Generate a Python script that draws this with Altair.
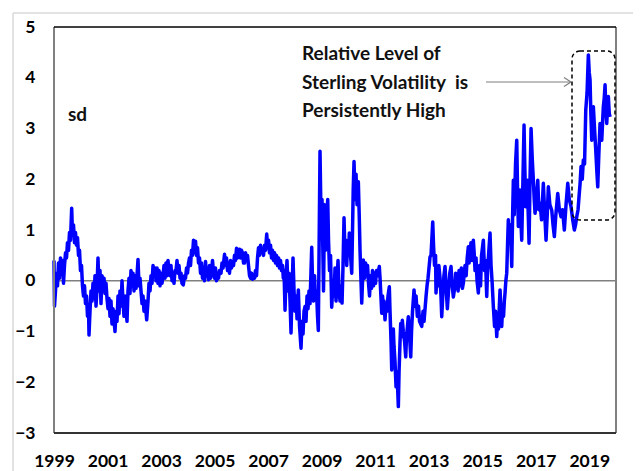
import altair as alt
import pandas as pd

# ---- data: (decimal year, standardised level in sd) ----
seg_1999_2001 = [
    (1999.000, 0.40), (1999.019, -0.50), (1999.056, -0.20), (1999.093, 0.15), (1999.131, -0.10),
    (1999.168, 0.35), (1999.206, 0.05), (1999.243, 0.45), (1999.280, 0.20), (1999.318, 0.40),
    (1999.355, -0.05), (1999.392, 0.30), (1999.430, 0.55), (1999.467, 0.45), (1999.504, 0.75),
    (1999.542, 0.60), (1999.579, 0.95), (1999.617, 0.80), (1999.661, 1.43), (1999.691, 0.90),
    (1999.729, 1.10), (1999.766, 0.75), (1999.803, 0.95), (1999.841, 0.70), (1999.878, 0.85),
    (1999.916, 0.50), (1999.953, 0.60), (1999.990, 0.20), (2000.028, 0.30), (2000.065, -0.10),
    (2000.102, -0.30), (2000.140, -0.10), (2000.177, -0.45), (2000.215, -0.30), (2000.252, -0.70),
    (2000.289, -0.50), (2000.308, -1.07), (2000.345, -0.60), (2000.383, -0.20), (2000.420, -0.40),
    (2000.457, -0.05), (2000.495, -0.35), (2000.532, 0.10), (2000.570, -0.50), (2000.607, -0.15),
    (2000.644, 0.45), (2000.682, -0.20), (2000.719, 0.20), (2000.756, -0.45), (2000.794, 0.10),
    (2000.831, -0.15), (2000.869, 0.05), (2000.906, -0.25), (2000.943, -0.05), (2000.981, -0.35),
    (2001.018, -0.55), (2001.055, -0.35), (2001.093, -0.70), (2001.130, -0.40), (2001.167, -0.85),
    (2001.205, -0.55), (2001.280, -1.00), (2001.317, -0.60), (2001.354, -0.80), (2001.392, -0.30),
    (2001.429, -0.65), (2001.466, -0.20), (2001.504, -0.50), (2001.541, 0.00), (2001.578, -0.40),
    (2001.616, -0.70), (2001.653, -0.30), (2001.728, -0.80), (2001.765, -0.20), (2001.803, 0.05),
    (2001.840, -0.25), (2001.877, 0.20), (2001.915, -0.10), (2001.952, 0.15), (2001.990, -0.20),
]
seg_2002_2004 = [
    (2002.027, 0.10), (2002.064, -0.15), (2002.102, 0.10), (2002.139, 0.42), (2002.176, -0.10),
    (2002.214, 0.05), (2002.251, -0.20), (2002.289, -0.45), (2002.326, -0.30), (2002.363, -0.60),
    (2002.401, -0.40), (2002.464, -0.77), (2002.513, -0.40), (2002.550, -0.05), (2002.588, -0.20),
    (2002.625, 0.10), (2002.662, -0.05), (2002.700, 0.30), (2002.737, 0.10), (2002.774, 0.25),
    (2002.812, 0.00), (2002.849, 0.25), (2002.886, -0.05), (2002.924, 0.20), (2002.961, -0.10),
    (2002.999, 0.15), (2003.036, -0.05), (2003.073, 0.10), (2003.111, 0.30), (2003.148, 0.05),
    (2003.185, 0.35), (2003.223, 0.10), (2003.260, 0.40), (2003.297, 0.20), (2003.335, 0.10),
    (2003.372, 0.30), (2003.410, 0.00), (2003.447, 0.15), (2003.484, -0.05), (2003.522, 0.20),
    (2003.559, 0.20), (2003.596, 0.40), (2003.634, 0.15), (2003.671, 0.30), (2003.709, 0.05),
    (2003.746, 0.15), (2003.783, -0.05), (2003.832, -0.08), (2003.877, 0.10), (2003.914, 0.05),
    (2003.952, 0.25), (2003.989, 0.15), (2004.026, 0.35), (2004.064, 0.45), (2004.101, 0.30),
    (2004.138, 0.60), (2004.176, 0.50), (2004.213, 0.80), (2004.250, 0.55), (2004.288, 0.78),
    (2004.325, 0.50), (2004.363, 0.65), (2004.400, 0.35), (2004.437, 0.45), (2004.475, 0.15),
    (2004.512, 0.35), (2004.549, 0.05), (2004.587, 0.25), (2004.624, 0.00), (2004.662, 0.38),
    (2004.699, 0.10), (2004.736, 0.20), (2004.774, 0.02), (2004.811, 0.30), (2004.848, 0.05),
    (2004.886, 0.20), (2004.923, 0.40), (2004.961, 0.15), (2004.998, 0.05),
]
seg_2005_2007 = [
    (2005.035, 0.25), (2005.073, 0.00), (2005.110, 0.10), (2005.147, 0.05), (2005.185, 0.20),
    (2005.241, 0.15), (2005.278, 0.35), (2005.316, 0.25), (2005.372, 0.52), (2005.409, 0.30),
    (2005.446, 0.45), (2005.484, 0.20), (2005.521, 0.35), (2005.558, 0.15), (2005.596, 0.40),
    (2005.633, 0.25), (2005.671, 0.38), (2005.708, 0.30), (2005.745, 0.50), (2005.783, 0.40),
    (2005.820, 0.64), (2005.857, 0.45), (2005.895, 0.55), (2005.932, 0.62), (2005.969, 0.45),
    (2006.007, 0.60), (2006.044, 0.55), (2006.082, 0.35), (2006.119, 0.35), (2006.156, 0.55),
    (2006.194, 0.40), (2006.231, 0.50), (2006.268, 0.30), (2006.306, 0.10), (2006.343, 0.05),
    (2006.381, 0.15), (2006.418, 0.03), (2006.455, 0.10), (2006.493, 0.05), (2006.530, 0.20),
    (2006.567, 0.10), (2006.605, 0.45), (2006.642, 0.65), (2006.679, 0.50), (2006.717, 0.70),
    (2006.754, 0.55), (2006.792, 0.60), (2006.829, 0.50), (2006.866, 0.70), (2006.904, 0.60),
    (2006.949, 0.92), (2006.979, 0.65), (2007.016, 0.80), (2007.053, 0.55), (2007.091, 0.70),
    (2007.128, 0.45), (2007.165, 0.60), (2007.203, 0.40), (2007.240, 0.55), (2007.278, 0.35),
    (2007.315, 0.50), (2007.352, 0.30), (2007.390, 0.45), (2007.427, 0.25), (2007.464, 0.40),
    (2007.502, 0.20), (2007.539, 0.30), (2007.569, 0.05), (2007.595, 0.20), (2007.633, -0.58),
    (2007.670, 0.10), (2007.707, 0.40), (2007.745, -0.20), (2007.782, 0.15), (2007.819, -0.40),
    (2007.857, -1.03), (2007.894, -0.20), (2007.931, 0.45), (2007.969, -0.20),
]
seg_2008_2010 = [
    (2008.006, -0.60), (2008.044, -0.30), (2008.081, -0.75), (2008.130, -0.18), (2008.175, -0.90),
    (2008.230, -1.33), (2008.268, -0.80), (2008.305, -1.05), (2008.343, -0.60), (2008.380, -0.51),
    (2008.417, -0.80), (2008.455, -0.30), (2008.492, -0.55), (2008.529, -0.20), (2008.567, -0.45),
    (2008.604, 0.20), (2008.630, 0.66), (2008.660, 0.00), (2008.697, -0.40), (2008.735, 0.10),
    (2008.772, -0.38), (2008.810, -0.20), (2008.847, -0.70), (2008.877, -0.98), (2008.903, 0.50),
    (2008.940, 2.55), (2008.978, 1.20), (2009.015, 1.60), (2009.071, -0.20), (2009.108, 1.50),
    (2009.146, 0.60), (2009.183, 1.20), (2009.228, 1.60), (2009.258, 0.80), (2009.295, 0.20),
    (2009.333, 0.50), (2009.377, -0.52), (2009.426, 0.00), (2009.464, -0.30), (2009.501, 0.25),
    (2009.538, -0.40), (2009.576, 0.00), (2009.613, 0.40), (2009.650, -0.20), (2009.688, -0.40),
    (2009.725, -0.10), (2009.763, -0.44), (2009.800, 0.30), (2009.837, 1.24), (2009.875, 0.50),
    (2009.912, 0.80), (2009.938, 0.30), (2009.968, 0.70), (2010.005, 0.50), (2010.035, 0.94),
    (2010.080, 0.50), (2010.125, 0.15), (2010.155, 1.00), (2010.181, 1.80), (2010.211, 2.35),
    (2010.248, 1.60), (2010.286, 2.10), (2010.323, 1.50), (2010.372, 1.95), (2010.405, 1.30),
    (2010.435, 0.60), (2010.465, 0.10), (2010.499, -0.44), (2010.529, 0.00), (2010.559, 0.41),
    (2010.604, 0.05), (2010.641, 0.35), (2010.678, 0.10), (2010.716, 0.30), (2010.753, -0.05),
    (2010.790, -0.30), (2010.828, 0.10), (2010.865, -0.15), (2010.902, 0.20), (2010.940, -0.10),
    (2010.977, 0.15),
]
seg_2011_2013 = [
    (2011.014, -0.05), (2011.052, 0.20), (2011.089, 0.10), (2011.156, 0.28), (2011.183, 0.05),
    (2011.246, -0.64), (2011.276, -0.30), (2011.313, -0.55), (2011.332, -0.40), (2011.369, -0.77),
    (2011.407, -0.45), (2011.444, -0.60), (2011.481, -0.30), (2011.530, -0.12), (2011.556, -0.60),
    (2011.594, -1.20), (2011.620, -1.76), (2011.650, -1.10), (2011.680, -0.95), (2011.706, -1.30),
    (2011.743, -1.60), (2011.781, -2.09), (2011.818, -1.80), (2011.867, -2.48), (2011.893, -1.80),
    (2011.930, -1.20), (2011.956, -0.84), (2011.986, -1.10), (2012.016, -0.78), (2012.053, -1.00),
    (2012.100, -1.20), (2012.143, -1.50), (2012.173, -1.10), (2012.240, -0.71), (2012.277, -1.00),
    (2012.330, -1.50), (2012.360, -1.00), (2012.397, -0.60), (2012.453, -0.18), (2012.491, -0.50),
    (2012.528, -0.30), (2012.577, -0.70), (2012.621, -0.50), (2012.659, -0.80), (2012.741, -0.90),
    (2012.790, -0.60), (2012.827, -0.80), (2012.902, -0.31), (2012.939, -0.10), (2012.976, 0.05),
    (2013.051, 0.47), (2013.088, 0.50), (2013.152, 1.16), (2013.182, 0.70), (2013.219, 0.30),
    (2013.257, 0.50), (2013.275, -0.24), (2013.313, 0.10), (2013.350, -0.10), (2013.380, 0.30),
    (2013.425, 0.05), (2013.460, -0.30), (2013.488, -0.71), (2013.537, -0.20), (2013.570, 0.10),
    (2013.612, 0.28), (2013.649, -0.10), (2013.698, -0.55), (2013.742, -0.20), (2013.790, 0.15),
    (2013.836, 0.28), (2013.873, -0.05), (2013.922, -0.32), (2013.985, -0.10),
]
seg_2014_2016 = [
    (2014.010, 0.15), (2014.060, 0.00), (2014.100, -0.20), (2014.135, 0.20), (2014.172, -0.10),
    (2014.220, 0.25), (2014.260, -0.15), (2014.295, -0.05), (2014.330, 0.15), (2014.359, 0.30),
    (2014.400, 0.10), (2014.440, 0.45), (2014.482, 0.67), (2014.510, 0.35), (2014.546, 0.50),
    (2014.580, 0.75), (2014.620, 0.40), (2014.669, 0.80), (2014.700, 0.55), (2014.733, 0.20),
    (2014.770, 0.45), (2014.808, 0.00), (2014.856, -0.24), (2014.901, 0.30), (2014.938, -0.10),
    (2014.976, 0.50), (2015.043, 0.80), (2015.088, 0.20), (2015.125, 0.40), (2015.170, -0.31),
    (2015.200, 0.20), (2015.237, 0.50), (2015.293, 0.94), (2015.331, 0.30), (2015.368, 0.00),
    (2015.417, -0.51), (2015.462, -0.90), (2015.499, -0.60), (2015.544, -1.10), (2015.574, -0.75),
    (2015.611, -0.95), (2015.641, -0.50), (2015.667, -0.18), (2015.704, -0.60), (2015.730, -0.90),
    (2015.760, -0.55), (2015.798, -0.70), (2015.828, -0.40), (2015.854, -0.24), (2015.884, 0.00),
    (2015.917, 0.15), (2015.947, 0.70), (2015.977, 1.20), (2016.011, 0.80), (2016.059, 1.10),
    (2016.104, 0.28), (2016.134, 1.20), (2016.164, 1.98), (2016.198, 1.30), (2016.246, 2.30),
    (2016.291, 2.77), (2016.321, 1.80), (2016.351, 1.07), (2016.384, 1.50), (2016.414, 1.79),
    (2016.444, 1.20), (2016.478, 0.80), (2016.508, 1.60), (2016.538, 2.40), (2016.564, 3.07),
    (2016.594, 2.20), (2016.627, 1.46), (2016.657, 1.60), (2016.687, 1.98), (2016.721, 1.30),
    (2016.751, 0.74), (2016.788, 2.00), (2016.826, 3.00), (2016.871, 2.40), (2016.912, 1.98),
    (2016.945, 1.60), (2016.975, 1.33),
]
seg_2017_2019 = [
    (2017.024, 1.60), (2017.076, 1.98), (2017.117, 1.40), (2017.162, 1.53), (2017.218, 1.20),
    (2017.285, 1.92), (2017.330, 1.40), (2017.386, 0.80), (2017.431, 1.30), (2017.472, 1.85),
    (2017.528, 1.50), (2017.599, 1.39), (2017.647, 1.10), (2017.696, 0.87), (2017.752, 1.30),
    (2017.823, 1.72), (2017.883, 1.40), (2017.947, 1.26), (2018.003, 1.40), (2018.070, 1.00),
    (2018.133, 1.50), (2018.197, 1.92), (2018.256, 1.60), (2018.320, 1.46), (2018.383, 1.20),
    (2018.444, 1.00), (2018.488, 1.10), (2018.533, 1.26), (2018.582, 1.40), (2018.619, 1.66),
    (2018.656, 1.90), (2018.694, 2.25), (2018.739, 2.00), (2018.780, 2.38), (2018.825, 2.30),
    (2018.870, 3.36), (2018.918, 3.70), (2018.967, 4.45), (2019.000, 4.10), (2019.030, 3.96),
    (2019.060, 3.30), (2019.094, 2.77), (2019.124, 3.10), (2019.154, 3.43), (2019.198, 3.00),
    (2019.243, 2.58), (2019.280, 2.20), (2019.318, 1.85), (2019.359, 2.50), (2019.404, 3.10),
    (2019.434, 2.90), (2019.468, 2.77), (2019.497, 3.10), (2019.527, 3.43), (2019.561, 3.60),
    (2019.591, 3.86), (2019.621, 3.40), (2019.654, 3.10), (2019.684, 3.40), (2019.714, 3.63),
    (2019.748, 3.30), (2019.778, 3.23),
]

x_tick_years = [1999, 2001, 2003, 2005, 2007, 2009, 2011, 2013, 2015, 2017, 2019]
y_tick_values = [-3, -2, -1, 0, 1, 2, 3, 4, 5]
x_domain = [1999, 2020]
y_domain = [-3, 5]
note_lines = ["Relative Level of", "Sterling Volatility\u00a0\u00a0is", "Persistently High"]
unit_label = "sd"

rows = seg_1999_2001 + seg_2002_2004 + seg_2005_2007 + seg_2008_2010 + seg_2011_2013 + seg_2014_2016 + seg_2017_2019
df = pd.DataFrame(rows, columns=["year", "sd"])

W, H = 562, 406
FONT = "Lato"
one = pd.DataFrame({"k": [0]})

x_scale = alt.Scale(domain=x_domain, nice=False, zero=False)
y_scale = alt.Scale(domain=y_domain, nice=False, zero=False)

zero_rule = alt.Chart(pd.DataFrame({"z": [0]})).mark_rule(color="#808080", strokeWidth=1.5).encode(
    y=alt.Y("z:Q", scale=y_scale)
)

line = alt.Chart(df).mark_line(color="#0000FF", strokeWidth=3.5, strokeJoin="round").encode(
    x=alt.X("year:Q", scale=x_scale,
            axis=alt.Axis(values=x_tick_years, format="d", title=None, grid=False, ticks=False,
                          domain=False, labelFont=FONT, labelFontSize=17.5, labelFontWeight="bold",
                          labelColor="#000000", labelPadding=19, labelFlush=False)),
    y=alt.Y("sd:Q", scale=y_scale,
            axis=alt.Axis(values=y_tick_values, format="d", title=None, grid=False, ticks=False,
                          domain=False, labelFont=FONT, labelFontSize=17.5, labelFontWeight="bold",
                          labelColor="#000000", labelPadding=19)),
)

base = alt.Chart(one)
# plot frame
left_b = base.mark_rule(color="#808080", strokeWidth=2).encode(x=alt.value(0), y=alt.value(0), y2=alt.value(H))
right_b = base.mark_rule(color="#808080", strokeWidth=2).encode(x=alt.value(W), y=alt.value(0), y2=alt.value(H))
top_b = base.mark_rule(color="#000000", strokeWidth=1.5).encode(x=alt.value(0), x2=alt.value(W), y=alt.value(0))
bot_b = base.mark_rule(color="#333333", strokeWidth=2).encode(x=alt.value(0), x2=alt.value(W), y=alt.value(H))
# outer figure frame
outer_l = base.mark_rule(color="#d9d9d9", strokeWidth=1.5).encode(x=alt.value(-41), y=alt.value(-14), y2=alt.value(H + 60))
outer_t = base.mark_rule(color="#d9d9d9", strokeWidth=1.5).encode(x=alt.value(-41), x2=alt.value(W + 40), y=alt.value(-14))

# annotations
note_layers = []
for i, txt in enumerate(note_lines):
    note_layers.append(
        base.mark_text(align="left", baseline="alphabetic", font=FONT, fontSize=19,
                       fontWeight="bold", color="#111111").encode(
            x=alt.value(248), y=alt.value(33 + 28.5 * i), text=alt.value(txt))
    )
sd_text = base.mark_text(align="left", baseline="alphabetic", font=FONT, fontSize=19,
                         fontWeight="bold", color="#111111").encode(
    x=alt.value(14), y=alt.value(94), text=alt.value(unit_label))

arrow = base.mark_rule(color="#7f7f7f", strokeWidth=1.2).encode(
    x=alt.value(432), x2=alt.value(516), y=alt.value(55))
head1 = base.mark_rule(color="#7f7f7f", strokeWidth=1.2).encode(
    x=alt.value(510), x2=alt.value(517), y=alt.value(50.5), y2=alt.value(55))
head2 = base.mark_rule(color="#7f7f7f", strokeWidth=1.2).encode(
    x=alt.value(510), x2=alt.value(517), y=alt.value(59.5), y2=alt.value(55))

box = base.mark_rect(fillOpacity=0, stroke="#000000", strokeWidth=1.5, strokeDash=[4, 3],
                     cornerRadius=8).encode(
    x=alt.value(518), x2=alt.value(561), y=alt.value(24), y2=alt.value(193))

chart = alt.layer(
    outer_l, outer_t, zero_rule, line, left_b, right_b, top_b, bot_b,
    *note_layers, sd_text, arrow, head1, head2, box
).properties(
    width=W, height=H,
    padding={"left": 46, "top": 19, "right": 17, "bottom": 38},
    autosize=alt.AutoSizeParams(type="none"),
    background="#ffffff",
).configure_view(stroke=None)

chart.save("out.html", embed_options={"renderer": "svg", "actions": False})
